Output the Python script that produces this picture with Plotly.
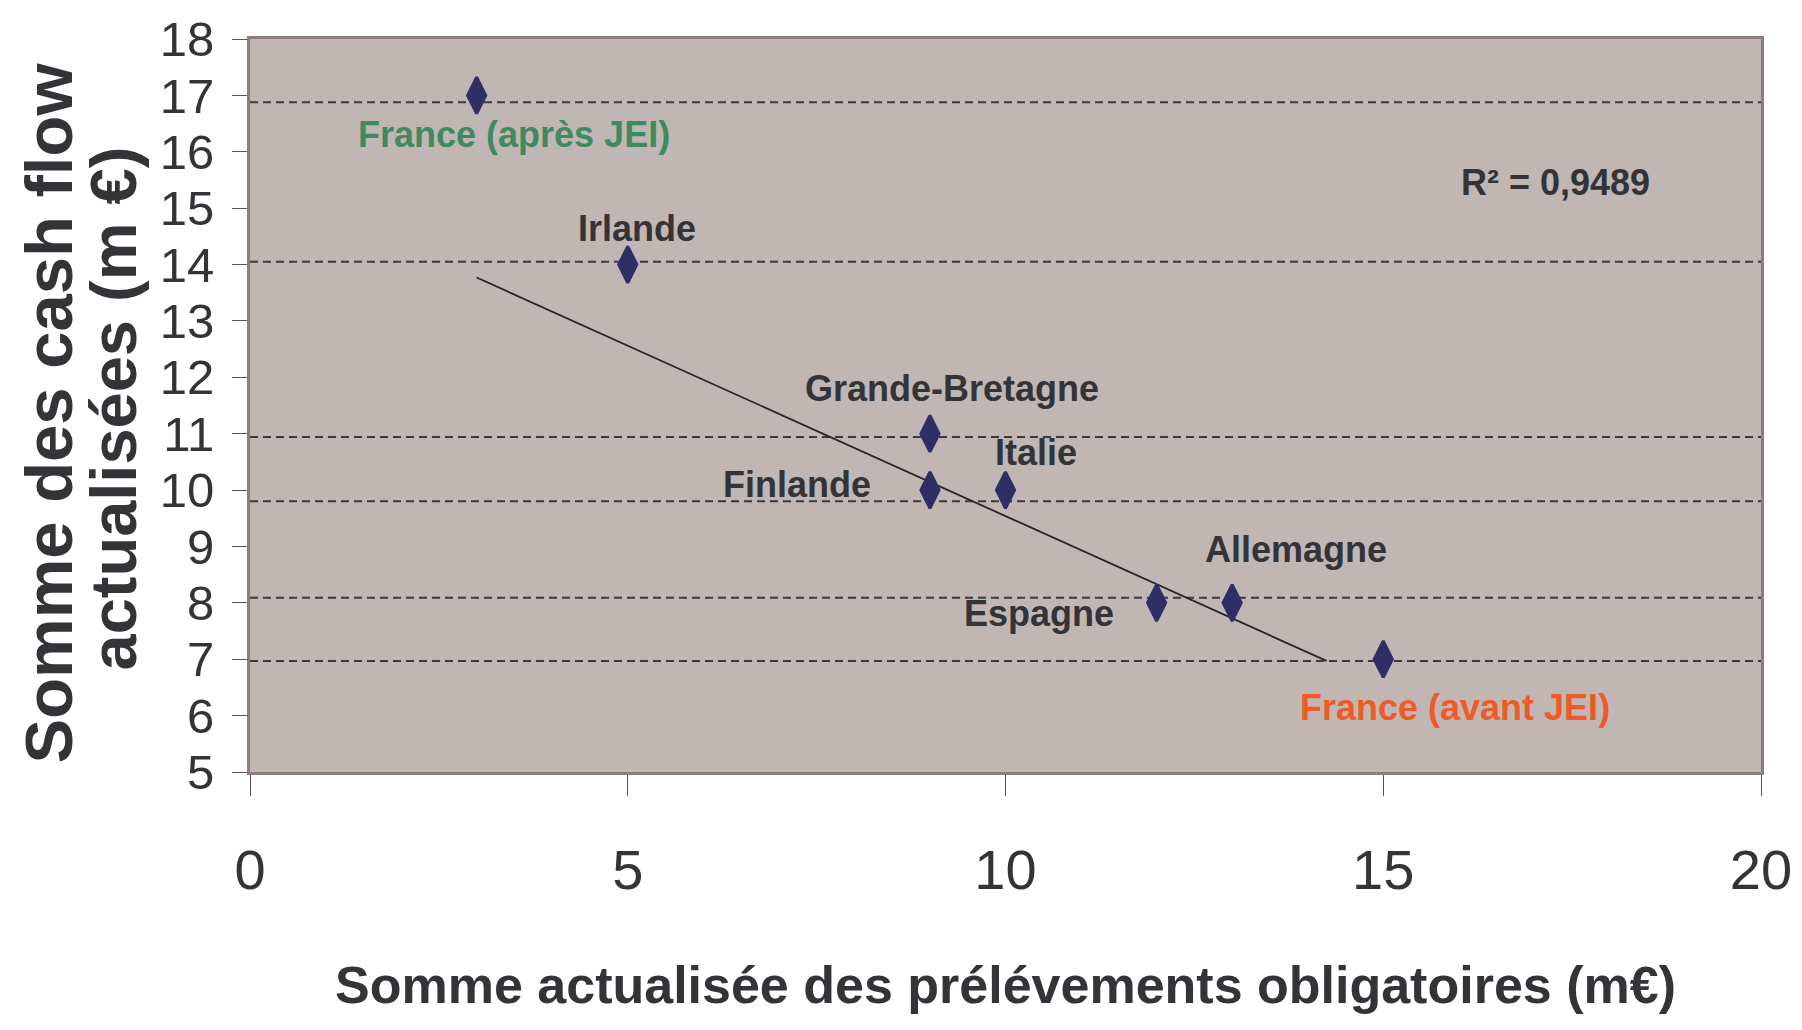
import plotly.graph_objects as go

# Data
countries = ["France (après JEI)", "Irlande", "Grande-Bretagne", "Finlande", "Italie",
             "Espagne", "Allemagne", "France (avant JEI)"]
prelevements = [3, 5, 9, 9, 10, 12, 13, 15]
cash_flow = [17, 14, 11, 10, 10, 8, 8, 7]
label_colors = ["#3f8a5f", "#333338", "#333338", "#333338", "#333338", "#333338", "#333338", "#f05a28"]
# label offsets (pixels) relative to each point
label_dx = [37, 9, 22, -133, 30, -118, 64, 72]
label_dy = [-39, 36, 45, 6, 38, -11, 53, -48]

trend_x = [3, 14.25]
trend_y = [13.77, 6.97]
r2_text = "R² = 0,9489"
r2_pos = (17.28, 15.46)

grid_y = [16.88, 14.05, 10.94, 9.80, 8.09, 6.97]

x_ticks = [0, 5, 10, 15, 20]
y_ticks = list(range(5, 19))

x_title = "Somme actualisée des prélévements obligatoires (m€)"
y_title_1 = "Somme des cash flow"
y_title_2 = "actualisées (m €)"

SANS = "Liberation Sans, Arial, Helvetica, sans-serif"
TXT = "#333338"

fig = go.Figure()
fig.add_trace(go.Scatter(x=trend_x, y=trend_y, mode="lines",
                         line=dict(color="#262626", width=1.8), hoverinfo="skip"))
fig.add_trace(go.Scatter(x=prelevements, y=cash_flow, mode="markers",
                         marker=dict(symbol="diamond-tall", size=26, color="#2f2f66",
                                     line=dict(color="#2f2f66", width=3)),
                         text=countries))

for gy in grid_y:
    fig.add_shape(type="line", xref="x", yref="y", x0=0, x1=20, y0=gy, y1=gy,
                  line=dict(color="#3a3a3d", width=2, dash="8px,5px"), layer="below")

annotations = []
for name, x, y, c, dx, dy in zip(countries, prelevements, cash_flow, label_colors, label_dx, label_dy):
    annotations.append(dict(x=x, y=y, xref="x", yref="y", text=name, showarrow=False,
                            xshift=dx, yshift=dy, xanchor="center", yanchor="middle",
                            font=dict(family=SANS, size=36, color=c, weight="bold")))
annotations.append(dict(x=r2_pos[0], y=r2_pos[1], xref="x", yref="y", text=r2_text, showarrow=False,
                        xanchor="center", yanchor="middle",
                        font=dict(family=SANS, size=36, color=TXT, weight="bold")))
annotations.append(dict(x=0.5, y=0, xref="paper", yref="paper", text=x_title, showarrow=False,
                        yshift=-213, xanchor="center", yanchor="middle",
                        font=dict(family=SANS, size=52, color=TXT, weight="bold")))
annotations.append(dict(x=0, y=0.5, xref="paper", yref="paper", text=y_title_1, showarrow=False,
                        xshift=-202, yshift=-8, xanchor="center", yanchor="middle", textangle=-90,
                        font=dict(family=SANS, size=67, color=TXT, weight="bold")))
annotations.append(dict(x=0, y=0.5, xref="paper", yref="paper", text=y_title_2, showarrow=False,
                        xshift=-137, yshift=-3, xanchor="center", yanchor="middle", textangle=-90,
                        font=dict(family=SANS, size=65, color=TXT, weight="bold")))

fig.update_layout(
    width=1802, height=1030,
    margin=dict(l=242, r=49, t=31, b=266),
    paper_bgcolor="white", plot_bgcolor="#c0b7b4",
    showlegend=False,
    annotations=annotations,
    xaxis=dict(range=[0, 20], tickvals=x_ticks, showgrid=False, zeroline=False,
               showline=True, mirror=True, linecolor="#8a7f7d", linewidth=3,
               ticks="outside", ticklen=21, tickcolor="#555555", tickwidth=1.2,
               ticklabelstandoff=26, automargin=False,
               tickfont=dict(family=SANS, size=56, color=TXT)),
    yaxis=dict(range=[5, 18], tickvals=y_ticks, showgrid=False, zeroline=False,
               showline=True, mirror=True, linecolor="#8a7f7d", linewidth=3,
               ticks="outside", ticklen=15, tickcolor="#555555", tickwidth=1.2,
               ticklabelstandoff=8, automargin=False,
               tickfont=dict(family=SANS, size=49, color=TXT)),
)

fig.write_html("out.html")
